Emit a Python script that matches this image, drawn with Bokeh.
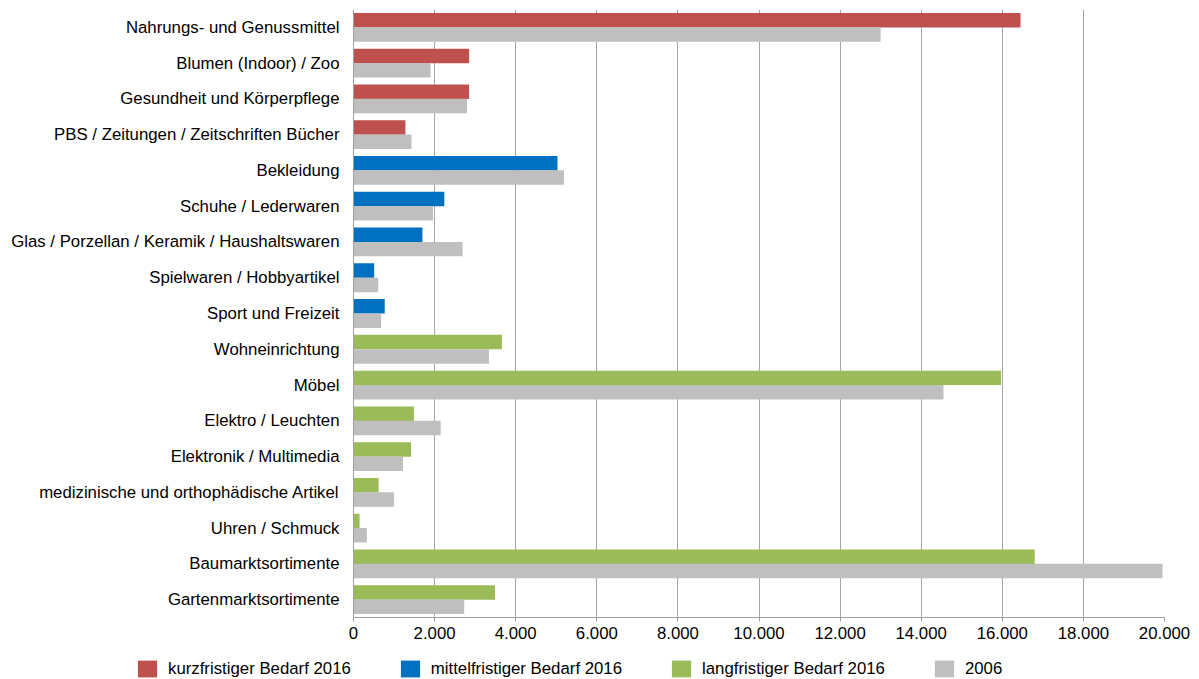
import pandas as pd
from bokeh.plotting import figure
from bokeh.layouts import column
from bokeh.models import ColumnDataSource, FactorRange, Legend, LegendItem, FixedTicker
from bokeh.transform import dodge
from bokeh.embed import file_html
from bokeh.resources import INLINE

categories = [
    "Nahrungs- und Genussmittel",
    "Blumen (Indoor) / Zoo",
    "Gesundheit und Körperpflege",
    "PBS / Zeitungen / Zeitschriften Bücher",
    "Bekleidung",
    "Schuhe / Lederwaren",
    "Glas / Porzellan / Keramik / Haushaltswaren",
    "Spielwaren / Hobbyartikel",
    "Sport und Freizeit",
    "Wohneinrichtung",
    "Möbel",
    "Elektro / Leuchten",
    "Elektronik / Multimedia",
    "medizinische und orthophädische Artikel",
    "Uhren / Schmuck",
    "Baumarktsortimente",
    "Gartenmarktsortimente",
]
groups = ["kurz", "kurz", "kurz", "kurz",
          "mittel", "mittel", "mittel", "mittel", "mittel",
          "lang", "lang", "lang", "lang", "lang", "lang", "lang", "lang"]
values_2016 = [16450, 2850, 2850, 1280, 5030, 2240, 1700, 510, 770,
               3660, 15970, 1490, 1420, 620, 150, 16800, 3490]
values_2006 = [13000, 1900, 2800, 1430, 5190, 1960, 2690, 610, 680,
               3340, 14550, 2150, 1220, 1000, 330, 19950, 2730]
x_ticks = [0, 2000, 4000, 6000, 8000, 10000, 12000, 14000, 16000, 18000, 20000]
series_keys = ["kurz", "mittel", "lang", "2006"]
series_labels = {
    "kurz": "kurzfristiger Bedarf 2016",
    "mittel": "mittelfristiger Bedarf 2016",
    "lang": "langfristiger Bedarf 2016",
    "2006": "2006",
}
colors = {"kurz": "#C0504D", "mittel": "#0070C0", "lang": "#9BBB59", "2006": "#BFBFBF"}

FONT = "Liberation Sans"
FS = "16.8px"

df = pd.DataFrame({"cat": categories, "group": groups,
                   "v2016": values_2016, "v2006": values_2006})

p = figure(width=1199, height=641,
           y_range=FactorRange(factors=categories[::-1]),
           x_range=(0, 20000),
           output_backend="svg", toolbar_location=None,
           min_border_left=353, min_border_right=35,
           min_border_top=9, min_border_bottom=0)

for g in ["kurz", "mittel", "lang"]:
    src = ColumnDataSource(df[df["group"] == g])
    p.hbar(y=dodge("cat", 0.2, range=p.y_range), left=0, right="v2016",
           height=0.405, source=src, fill_color=colors[g], line_color=None)
src_all = ColumnDataSource(df)
p.hbar(y=dodge("cat", -0.2, range=p.y_range), left=0, right="v2006",
       height=0.405, source=src_all, fill_color=colors["2006"], line_color=None)

p.outline_line_color = None
p.ygrid.grid_line_color = None
p.xgrid.grid_line_color = "#A6A6A6"
p.xgrid.grid_line_width = 1

p.xaxis.ticker = FixedTicker(ticks=x_ticks)
p.xaxis.major_label_overrides = {t: f"{t:,}".replace(",", ".") for t in x_ticks}
p.xaxis.axis_line_color = "#A0A0A0"
p.xaxis.major_tick_line_color = "#A0A0A0"
p.xaxis.major_tick_out = 4
p.xaxis.major_tick_in = 0
p.xaxis.minor_tick_line_color = None
p.xaxis.major_label_standoff = 5
p.xaxis.major_label_text_font = FONT
p.xaxis.major_label_text_font_size = FS
p.xaxis.major_label_text_color = "black"

p.yaxis.axis_line_color = "#A0A0A0"
p.yaxis.major_tick_line_color = None
p.yaxis.major_tick_out = 0
p.yaxis.major_tick_in = 0
p.yaxis.major_label_standoff = 14
p.yaxis.major_label_text_font = FONT
p.yaxis.major_label_text_font_size = FS
p.yaxis.major_label_text_color = "black"

# Legend strip below the chart; its bars fall outside the strip's visible x-range,
# so only the legend swatches show.
lg = figure(width=1199, height=38, y_range=FactorRange(factors=categories),
            x_range=(-2, -1), output_backend="svg", toolbar_location=None,
            x_axis_type=None, min_border=0)
lg.yaxis.visible = False
lg.frame_align = False
lg.outline_line_color = None
lg.grid.grid_line_color = None
lg_src = ColumnDataSource(df)
items = []
for k in series_keys:
    r = lg.hbar(y="cat", left=0, right="v2016", height=0.4, source=lg_src,
                fill_color=colors[k], line_color=None)
    items.append(LegendItem(label=series_labels[k], renderers=[r]))
legend = Legend(items=items, orientation="horizontal", location=(135, 0),
                padding=0, margin=0, spacing=47, glyph_width=24, glyph_height=21,
                label_standoff=9, label_text_font=FONT, label_text_font_size=FS,
                label_text_color="black", border_line_color=None,
                background_fill_alpha=0)
lg.add_layout(legend)

layout = column(p, lg, spacing=0)
open("out.html", "w").write(file_html(layout, INLINE))
